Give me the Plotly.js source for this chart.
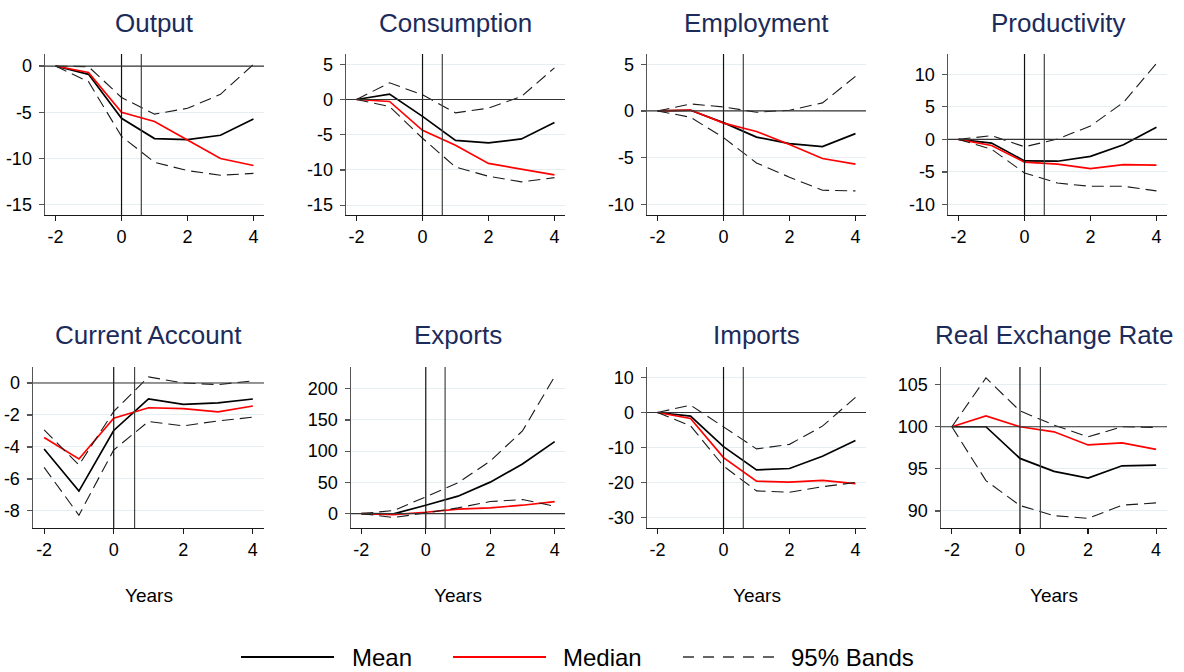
<!DOCTYPE html>
<html><head><meta charset="utf-8">
<script src="https://cdn.plot.ly/plotly-3.0.1.min.js"></script>
<style>html,body{margin:0;padding:0;background:#fff}#chart{width:1184px;height:672px}</style>
</head><body><div id="chart"></div>
<script>
// ---------- data ----------
const years = [-2, -1, 0, 1, 2, 3, 4];
const panelTitles = ["Output", "Consumption", "Employment", "Productivity",
                     "Current Account", "Exports", "Imports", "Real Exchange Rate"];
const xTickVals = [-2, 0, 2, 4];
const xLabel = "Years";
const legendLabels = ["Mean", "Median", "95% Bands"];

const output_mean   = [0, -0.9, -5.65, -7.84, -7.95, -7.48, -5.72];
const output_median = [0, -0.7, -5.0, -6.0, -8.0, -10.0, -10.75];
const output_upper  = [0, -0.07, -3.4, -5.2, -4.57, -3.06, 0.18];
const output_lower  = [0, -1.7, -7.6, -10.4, -11.3, -11.8, -11.6];

const consumption_mean   = [0, 0.76, -2.4, -5.8, -6.17, -5.6, -3.27];
const consumption_median = [0, -0.28, -4.37, -6.5, -9.07, -9.9, -10.7];
const consumption_upper  = [0, 2.37, 0.66, -1.9, -1.23, 0.43, 4.5];
const consumption_lower  = [0, -1.0, -5.5, -9.6, -10.9, -11.7, -11.1];

const employment_mean   = [0, 0.07, -1.25, -2.8, -3.5, -3.82, -2.43];
const employment_median = [0, 0.1, -1.3, -2.2, -3.6, -5.1, -5.7];
const employment_upper  = [0, 0.75, 0.43, -0.14, 0.07, 0.86, 3.7];
const employment_lower  = [0, -0.68, -2.86, -5.57, -7.1, -8.5, -8.57];

const productivity_mean   = [0, -0.56, -3.3, -3.35, -2.6, -0.82, 1.85];
const productivity_median = [0, -0.93, -3.5, -3.8, -4.47, -3.86, -3.95];
const productivity_upper  = [0, 0.57, -1.13, 0.05, 2.06, 5.67, 11.65];
const productivity_lower  = [0, -1.5, -5.15, -6.7, -7.2, -7.2, -7.9];

const currentaccount_mean   = [-4.13, -6.76, -2.97, -1.0, -1.34, -1.24, -1.0];
const currentaccount_median = [-3.41, -4.75, -2.2, -1.55, -1.6, -1.8, -1.44];
const currentaccount_upper  = [-2.93, -5.13, -1.78, 0.38, 0.0, -0.1, 0.13];
const currentaccount_lower  = [-5.28, -8.27, -4.19, -2.41, -2.68, -2.37, -2.14];

const exports_mean   = [0, -0.5, 13.4, 27.9, 50.4, 79.4, 115.3];
const exports_median = [0, -1.6, 2.1, 7.0, 9.1, 13.4, 19.3];
const exports_upper  = [0, 4.8, 26.8, 49.3, 84.2, 132.4, 219.8];
const exports_lower  = [0, -6.4, 1.1, 9.1, 19.3, 22.5, 11.8];

const imports_mean   = [0, -1.05, -9.75, -16.4, -16.0, -12.5, -8.0];
const imports_median = [0, -1.7, -12.9, -19.6, -19.9, -19.4, -20.3];
const imports_upper  = [0, 2.1, -4.1, -10.4, -9.1, -3.9, 4.3];
const imports_lower  = [0, -3.8, -15.3, -22.4, -22.8, -21.2, -20.0];

const rer_mean   = [100, 100, 96.24, 94.7, 93.9, 95.36, 95.44];
const rer_median = [100, 101.28, 100, 99.4, 97.84, 98.08, 97.32];
const rer_upper  = [100, 105.8, 101.88, 100.2, 98.8, 100, 99.92];
const rer_lower  = [100, 93.6, 90.64, 89.44, 89.12, 90.68, 90.96];

const yTicks = [
  [0, -5, -10, -15],
  [5, 0, -5, -10, -15],
  [5, 0, -5, -10],
  [10, 5, 0, -5, -10],
  [0, -2, -4, -6, -8],
  [0, 50, 100, 150, 200],
  [10, 0, -10, -20, -30],
  [90, 95, 100, 105]
];
const yRanges = [[-16.1, 1.3], [-16.4, 6.46], [-11.15, 6.1], [-11.6, 13.1],
                 [-9.07, 1.0], [-23.1, 234.9], [-33, 13], [87.97, 107.1]];
const refLevel = [0, 0, 0, 0, 0, 0, 0, 100];
const eventLines = [0, 0.6];

const series = [
  [output_mean, output_median, output_upper, output_lower],
  [consumption_mean, consumption_median, consumption_upper, consumption_lower],
  [employment_mean, employment_median, employment_upper, employment_lower],
  [productivity_mean, productivity_median, productivity_upper, productivity_lower],
  [currentaccount_mean, currentaccount_median, currentaccount_upper, currentaccount_lower],
  [exports_mean, exports_median, exports_upper, exports_lower],
  [imports_mean, imports_median, imports_upper, imports_lower],
  [rer_mean, rer_median, rer_upper, rer_lower]
];

// ---------- layout geometry (pixels) ----------
const W = 1184, H = 672;
const boxes = [
  [45, 264, 54, 215], [346, 565, 54, 215], [647, 866, 54, 215], [948, 1167, 54, 215],
  [33, 264, 367, 528], [351, 565, 367, 528], [647, 866, 367, 528], [941, 1167, 367, 528]
];
const FONT = '"Liberation Sans", Arial, Helvetica, sans-serif';
const TITLE_COLOR = '#1c2b5a';
const DASH = '12px,6px';

const traces = [];
const layout = {
  width: W, height: H,
  margin: {l: 0, r: 0, t: 0, b: 0},
  paper_bgcolor: '#ffffff', plot_bgcolor: '#ffffff',
  showlegend: false,
  font: {family: FONT, color: '#000'},
  shapes: [], annotations: []
};

const styles = [
  {color: '#000000', width: 1.7},
  {color: '#ff0000', width: 1.7},
  {color: '#1a1a1a', width: 1.1, dash: DASH},
  {color: '#1a1a1a', width: 1.1, dash: DASH}
];
const names = ["Mean", "Median", "95% Bands (upper)", "95% Bands (lower)"];

for (let i = 0; i < 8; i++) {
  const s = i === 0 ? '' : String(i + 1);
  const [l, r, t, b] = boxes[i];
  layout['xaxis' + s] = {
    domain: [l / W, r / W], range: [-2.32, 4.32], anchor: 'y' + s,
    tickvals: xTickVals, ticktext: xTickVals.map(String),
    showline: true, linecolor: '#1a1a1a', linewidth: 1.3,
    ticks: 'outside', ticklen: 5, tickcolor: '#1a1a1a', tickwidth: 1.2,
    showgrid: false, zeroline: false, automargin: false,
    tickfont: {size: 18, family: FONT, color: '#000'}, fixedrange: true
  };
  layout['yaxis' + s] = {
    domain: [1 - b / H, 1 - t / H], range: yRanges[i], anchor: 'x' + s,
    tickvals: yTicks[i], ticktext: yTicks[i].map(String),
    showline: true, linecolor: '#555555', linewidth: 1.5,
    ticks: 'outside', ticklen: 5, tickcolor: '#555555', tickwidth: 1.2,
    showgrid: true, gridcolor: '#e6eef1', gridwidth: 1,
    zeroline: false, automargin: false, ticklabelstandoff: 3,
    tickfont: {size: 18, family: FONT, color: '#000'}, fixedrange: true
  };
  series[i].forEach((vals, k) => {
    traces.push({
      x: years, y: vals, type: 'scatter', mode: 'lines',
      name: names[k], xaxis: 'x' + s, yaxis: 'y' + s,
      line: styles[k], hoverinfo: 'skip'
    });
  });
  eventLines.forEach((xv, k) => {
    layout.shapes.push({
      type: 'line', xref: 'x' + s, yref: 'y' + s + ' domain',
      x0: xv, x1: xv, y0: 0, y1: 1,
      line: {color: k === 0 ? '#111111' : '#444444', width: 1.2}
    });
  });
  layout.shapes.push({
    type: 'line', xref: 'x' + s + ' domain', yref: 'y' + s,
    x0: 0, x1: 1, y0: refLevel[i], y1: refLevel[i],
    line: {color: '#333333', width: 1.2}
  });
  layout.annotations.push({
    text: panelTitles[i], xref: 'paper', yref: 'paper',
    x: ((l + r) / 2) / W, y: 1 - (i < 4 ? 22.5 : 335.5) / H,
    xanchor: 'center', yanchor: 'middle', showarrow: false,
    font: {size: 26, family: FONT, color: TITLE_COLOR}
  });
  if (i >= 4) {
    layout.annotations.push({
      text: xLabel, xref: 'paper', yref: 'paper',
      x: ((l + r) / 2) / W, y: 1 - 595 / H,
      xanchor: 'center', yanchor: 'middle', showarrow: false,
      font: {size: 19, family: FONT, color: '#000'}
    });
  }
}

// ---------- legend (drawn) ----------
const legY = 1 - 657 / H;
const legItems = [
  {x0: 241, x1: 334, tx: 350, line: {color: '#000', width: 2}},
  {x0: 453, x1: 546, tx: 561, line: {color: '#ff0000', width: 2}},
  {x0: 683, x1: 776, tx: 789, line: {color: '#333', width: 1.4, dash: '11px,9px'}}
];
legItems.forEach((it, k) => {
  layout.shapes.push({type: 'line', xref: 'paper', yref: 'paper',
    x0: it.x0 / W, x1: it.x1 / W, y0: legY, y1: legY, line: it.line});
  layout.annotations.push({text: legendLabels[k], xref: 'paper', yref: 'paper',
    x: it.tx / W, y: legY, xanchor: 'left', yanchor: 'middle', showarrow: false,
    font: {size: 24, family: FONT, color: '#000'}});
});

Plotly.newPlot('chart', traces, layout, {staticPlot: true, displayModeBar: false});
</script>
</body></html>
